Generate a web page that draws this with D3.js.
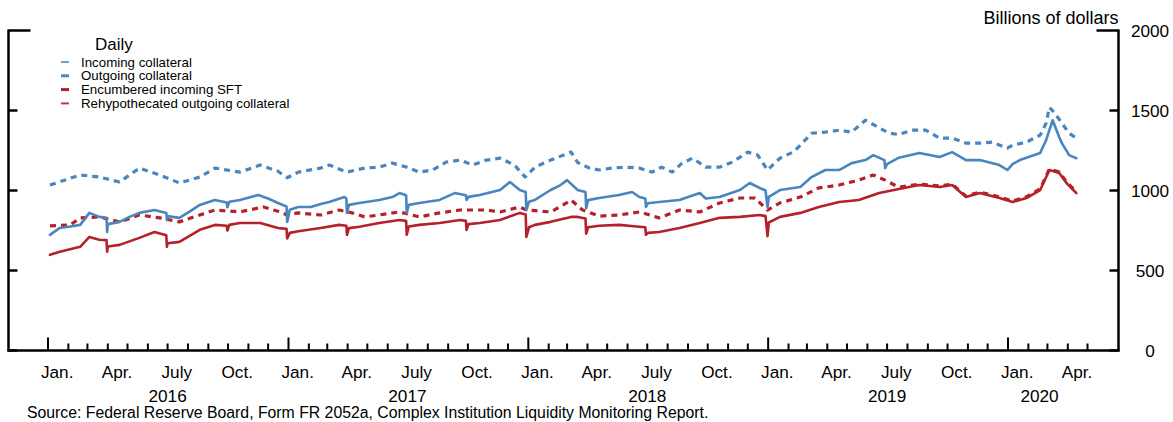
<!DOCTYPE html>
<html><head><meta charset="utf-8">
<script src="https://cdn.jsdelivr.net/npm/d3@7"></script>
<style>
html,body{margin:0;padding:0;background:#fff;}
svg{display:block;font-family:"Liberation Sans",Arial,sans-serif;}
</style></head>
<body><svg id="c" width="1173" height="422"></svg>
<script>
// ---- DATA (billions of dollars, daily) ----
const outgoingCollateral = [
["2016-01-04",723],["2016-01-19",766],["2016-02-04",775],["2016-02-19",785],["2016-03-04",860],["2016-03-19",835],["2016-03-30",830],["2016-03-31",741],["2016-04-01",790],["2016-04-19",804],["2016-05-04",835],["2016-05-19",860],["2016-06-11",878],["2016-06-29",860],["2016-06-30",815],["2016-07-01",840],["2016-07-19",829],["2016-08-04",870],["2016-08-19",910],["2016-09-11",941],["2016-09-29",925],["2016-09-30",895],["2016-10-03",930],["2016-10-19",941],["2016-11-16",972],["2016-12-01",950],["2016-12-16",922],["2016-12-29",900],["2016-12-30",804],["2017-01-03",880],["2017-01-16",897],["2017-02-04",897],["2017-02-19",915],["2017-03-04",928],["2017-03-27",959],["2017-03-30",950],["2017-03-31",860],["2017-04-03",910],["2017-04-19",922],["2017-05-19",941],["2017-06-08",959],["2017-06-19",984],["2017-06-29",970],["2017-06-30",860],["2017-07-03",910],["2017-07-19",922],["2017-08-19",941],["2017-09-11",984],["2017-09-28",970],["2017-09-29",941],["2017-10-02",960],["2017-10-19",972],["2017-11-19",1003],["2017-12-04",1053],["2017-12-19",1003],["2017-12-28",990],["2017-12-29",878],["2018-01-02",930],["2018-01-11",941],["2018-02-04",1003],["2018-02-19",1034],["2018-03-01",1065],["2018-03-17",1003],["2018-03-29",990],["2018-03-30",890],["2018-04-02",940],["2018-04-19",953],["2018-05-19",972],["2018-06-08",991],["2018-06-19",959],["2018-06-28",950],["2018-06-29",897],["2018-07-02",920],["2018-07-19",928],["2018-08-19",941],["2018-09-19",984],["2018-09-28",950],["2018-10-19",959],["2018-11-19",1003],["2018-12-04",1047],["2018-12-19",1016],["2018-12-28",1000],["2018-12-31",897],["2019-01-02",960],["2019-01-19",1003],["2019-02-19",1022],["2019-03-08",1084],["2019-03-29",1128],["2019-04-19",1128],["2019-05-08",1171],["2019-05-29",1190],["2019-06-10",1221],["2019-06-27",1190],["2019-06-28",1140],["2019-07-01",1165],["2019-07-19",1205],["2019-08-19",1234],["2019-09-19",1209],["2019-10-08",1240],["2019-10-29",1190],["2019-11-19",1190],["2019-12-19",1159],["2019-12-31",1128],["2020-01-08",1165],["2020-01-19",1190],["2020-02-19",1234],["2020-02-28",1315],["2020-03-09",1439],["2020-03-19",1333],["2020-03-23",1296],["2020-04-03",1221],["2020-04-14",1202]
];
const incomingCollateral = [
["2016-01-04",1034],["2016-02-19",1097],["2016-03-19",1084],["2016-04-19",1053],["2016-05-19",1140],["2016-06-19",1097],["2016-07-19",1047],["2016-08-19",1084],["2016-09-11",1140],["2016-10-19",1115],["2016-11-19",1159],["2016-12-16",1120],["2016-12-30",1080],["2017-01-16",1115],["2017-02-19",1140],["2017-03-04",1159],["2017-03-31",1115],["2017-04-27",1140],["2017-05-19",1146],["2017-06-08",1171],["2017-06-30",1146],["2017-07-19",1115],["2017-08-08",1128],["2017-08-29",1178],["2017-09-19",1190],["2017-10-08",1159],["2017-10-29",1190],["2017-11-19",1202],["2017-12-11",1159],["2017-12-27",1084],["2018-01-11",1146],["2018-02-04",1190],["2018-03-07",1240],["2018-03-17",1175],["2018-04-04",1140],["2018-04-19",1128],["2018-05-08",1140],["2018-05-29",1146],["2018-06-19",1140],["2018-07-08",1115],["2018-07-23",1146],["2018-08-08",1115],["2018-08-23",1171],["2018-09-08",1202],["2018-09-28",1146],["2018-10-19",1146],["2018-11-08",1178],["2018-12-01",1240],["2018-12-16",1221],["2018-12-31",1128],["2019-01-19",1202],["2019-02-08",1240],["2019-02-19",1283],["2019-03-08",1358],["2019-03-29",1365],["2019-04-19",1377],["2019-05-08",1365],["2019-05-29",1439],["2019-06-19",1392],["2019-07-04",1358],["2019-07-19",1350],["2019-08-08",1377],["2019-08-29",1377],["2019-09-19",1327],["2019-10-08",1327],["2019-10-29",1296],["2019-11-19",1296],["2019-12-08",1302],["2019-12-31",1265],["2020-01-08",1283],["2020-01-29",1302],["2020-02-19",1346],["2020-02-28",1421],["2020-03-04",1520],["2020-03-11",1489],["2020-03-23",1421],["2020-04-03",1358],["2020-04-12",1333]
];
const rehypothecatedOutgoing = [
["2016-01-04",779],["2016-02-04",785],["2016-02-19",829],["2016-03-19",835],["2016-04-19",804],["2016-05-19",847],["2016-06-19",829],["2016-07-19",804],["2016-08-19",847],["2016-09-11",878],["2016-10-19",866],["2016-11-24",897],["2016-12-16",870],["2016-12-30",847],["2017-01-16",860],["2017-02-19",847],["2017-03-19",878],["2017-04-08",860],["2017-04-27",835],["2017-05-19",847],["2017-06-19",866],["2017-07-19",835],["2017-08-19",860],["2017-09-19",878],["2017-10-29",878],["2017-11-19",866],["2017-12-19",897],["2017-12-29",878],["2018-02-04",866],["2018-02-28",922],["2018-03-07",941],["2018-03-24",880],["2018-04-19",840],["2018-05-19",847],["2018-06-19",866],["2018-07-19",829],["2018-08-19",878],["2018-09-19",866],["2018-10-19",922],["2018-11-19",953],["2018-12-12",953],["2018-12-31",878],["2019-01-19",922],["2019-02-19",959],["2019-03-19",1016],["2019-04-19",1034],["2019-05-19",1065],["2019-06-10",1097],["2019-06-28",1065],["2019-07-19",1020],["2019-08-19",1040],["2019-09-19",1028],["2019-10-08",1040],["2019-10-29",965],["2019-11-19",990],["2019-12-19",960],["2020-01-08",935],["2020-01-29",960],["2020-02-19",1010],["2020-03-04",1135],["2020-03-19",1115],["2020-03-30",1055],["2020-04-14",990]
];
const encumberedIncomingSFT = [
["2016-01-04",598],["2016-01-19",617],["2016-02-19",648],["2016-03-04",710],["2016-03-19",692],["2016-03-30",690],["2016-03-31",617],["2016-04-01",650],["2016-04-19",660],["2016-05-19",704],["2016-06-11",741],["2016-06-29",720],["2016-06-30",648],["2016-07-01",670],["2016-07-19",679],["2016-08-19",754],["2016-09-11",785],["2016-09-29",780],["2016-09-30",750],["2016-10-03",785],["2016-10-19",797],["2016-11-19",797],["2016-12-16",766],["2016-12-29",760],["2016-12-30",700],["2017-01-03",735],["2017-01-16",745],["2017-02-19",766],["2017-03-19",785],["2017-03-30",780],["2017-03-31",723],["2017-04-03",765],["2017-04-19",773],["2017-05-19",797],["2017-06-19",816],["2017-06-29",810],["2017-06-30",723],["2017-07-03",775],["2017-07-19",785],["2017-08-19",797],["2017-09-19",816],["2017-09-28",810],["2017-09-29",754],["2017-10-02",790],["2017-10-19",797],["2017-11-19",816],["2017-12-19",860],["2017-12-28",850],["2017-12-29",710],["2018-01-02",770],["2018-01-11",785],["2018-02-04",804],["2018-03-07",835],["2018-03-17",835],["2018-03-29",825],["2018-03-30",730],["2018-04-02",770],["2018-04-19",780],["2018-05-19",785],["2018-06-19",773],["2018-06-28",770],["2018-06-29",723],["2018-07-02",735],["2018-07-19",741],["2018-08-19",766],["2018-09-19",797],["2018-10-19",829],["2018-11-19",835],["2018-12-19",847],["2018-12-28",840],["2018-12-31",715],["2019-01-02",800],["2019-01-19",835],["2019-02-19",860],["2019-03-19",897],["2019-04-19",928],["2019-05-19",941],["2019-06-19",985],["2019-07-19",1010],["2019-08-19",1034],["2019-09-19",1022],["2019-10-08",1034],["2019-10-29",959],["2019-11-19",984],["2019-12-19",953],["2020-01-08",928],["2020-01-29",953],["2020-02-19",1003],["2020-03-04",1128],["2020-03-19",1109],["2020-03-30",1047],["2020-04-14",984]
];
const legendLabels = ["Incoming collateral","Outgoing collateral","Encumbered incoming SFT","Rehypothecated outgoing collateral"];
const yTicks = [0,500,1000,1500,2000];
const monthLabels = ["Jan.","Apr.","July","Oct."];
const yearLabels = ["2016","2017","2018","2019","2020"];
const unitLabel = "Billions of dollars";
const sourceNote = "Source: Federal Reserve Board, Form FR 2052a, Complex Institution Liquidity Monitoring Report.";
const legendTitle = "Daily";

// ---- CHART ----
(function(){
const svg = d3.select("#c");
const parse = d3.timeParse("%Y-%m-%d");
const BLUE = "#4a86bd", RED = "#b5212a";
const pL = 8.5, pR = 1118.5, pT = 30.5, pB = 350.5;

const x = d3.scaleTime().domain([new Date(2016,0,1), new Date(2020,0,1)]).range([48, 1008]);
const y = d3.scaleLinear().domain([0,2000]).range([pB, pT]);

const line = d3.line().x(d => x(parse(d[0]))).y(d => y(d[1])).curve(d3.curveLinear);

const series = [
  {data: incomingCollateral, color: BLUE, dash: "6,5", w: 3.2},
  {data: rehypothecatedOutgoing, color: RED, dash: "6,5", w: 3.2},
  {data: outgoingCollateral, color: BLUE, dash: null, w: 2.6},
  {data: encumberedIncomingSFT, color: RED, dash: null, w: 2.6}
];
series.forEach(s => {
  svg.append("path").datum(s.data).attr("d", line)
    .attr("fill","none").attr("stroke", s.color).attr("stroke-width", s.w)
    .attr("stroke-linejoin","round").attr("stroke-linecap", s.dash ? "butt" : "round")
    .attr("stroke-dasharray", s.dash);
});

// axes frame
const g = svg.append("g").attr("stroke","#000").attr("stroke-width",2.5).attr("fill","none");
g.append("line").attr("x1",pL).attr("x2",pL).attr("y1",pT-1).attr("y2",pB+1);
g.append("line").attr("x1",pR).attr("x2",pR).attr("y1",pT-1).attr("y2",pB+1);
g.append("line").attr("x1",pL-1).attr("x2",pR+1).attr("y1",pB).attr("y2",pB);
yTicks.forEach(v => {
  const len = v === 2000 ? 22 : 9;
  g.append("line").attr("x1",pL).attr("x2",pL+len).attr("y1",y(v)).attr("y2",y(v));
  g.append("line").attr("x1",pR-len).attr("x2",pR).attr("y1",y(v)).attr("y2",y(v));
});
// month ticks
const months = d3.timeMonth.range(new Date(2016,0,1), new Date(2020,4,2));
const gt = svg.append("g").attr("stroke","#000").attr("stroke-width",2);
months.forEach(m => {
  const major = m.getMonth() === 0;
  gt.append("line").attr("x1",x(m)).attr("x2",x(m))
    .attr("y1", pB).attr("y2", pB - (major ? 13 : 7));
});

// labels
const txt = svg.append("g").attr("fill","#000").attr("font-size","17.2px");
const quarterMonths = d3.timeMonth.every(3).range(new Date(2016,0,1), new Date(2020,4,1));
quarterMonths.forEach(m => {
  const mid = new Date(m.getFullYear(), m.getMonth(), 15);
  txt.append("text").attr("x", x(mid)).attr("y", 378).attr("text-anchor","middle")
    .text(monthLabels[m.getMonth()/3]);
});
yearLabels.forEach((yl,i) => {
  const yr = +yl;
  const c = yr === 2020 ? x(new Date(2020,1,18)) : x(new Date(yr,6,1));
  txt.append("text").attr("x", c).attr("y", 402).attr("text-anchor","middle").text(yl);
});
yTicks.forEach(v => {
  txt.append("text").attr("x", 1150).attr("y", y(v)).attr("dy","0.35em")
    .attr("text-anchor","middle").text(v);
});
txt.append("text").attr("x", pR).attr("y", 24).attr("text-anchor","end").attr("font-size","18px").text(unitLabel);
svg.append("text").attr("x", 27).attr("y", 418).attr("font-size","15.8px").text(sourceNote);

// legend
svg.append("text").attr("x", 95).attr("y", 50).attr("font-size","17px").text(legendTitle);
const legColors = ["#6fa0cf", BLUE, RED, "#c23a40"];
const legW = [2, 3, 3, 2];
legendLabels.forEach((lab,i) => {
  const yy = 62 + i*13.8;
  svg.append("line").attr("x1",61).attr("x2",69).attr("y1",yy).attr("y2",yy)
    .attr("stroke", legColors[i]).attr("stroke-width", legW[i]);
  svg.append("text").attr("x",81).attr("y",yy).attr("dy","0.35em").attr("font-size","13.3px").text(lab);
});
})();
</script></body></html>
